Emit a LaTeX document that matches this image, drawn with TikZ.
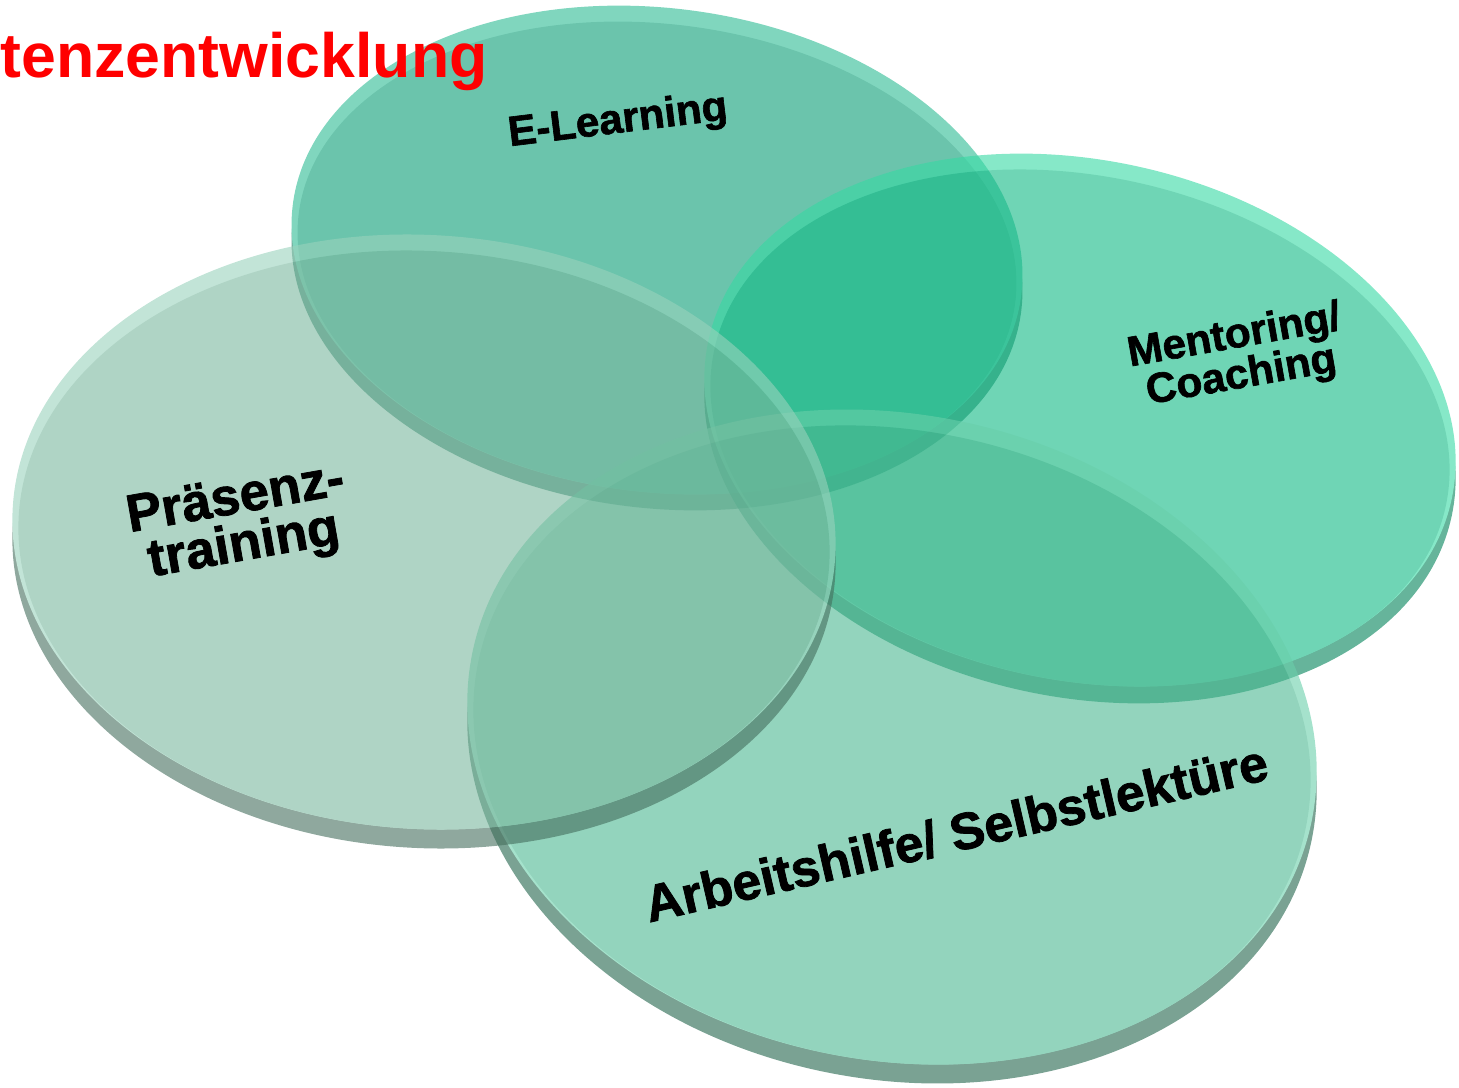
\documentclass[tikz,border=0pt]{standalone}
\usepackage{fontspec}
\setmainfont{Liberation Sans}
\newfontfamily\lblfont[BoldFeatures={FakeBold=1.5}]{Liberation Sans}
\definecolor{elSide}{RGB}{20,110,85}
\definecolor{elRim}{RGB}{43,187,147}
\definecolor{elFace}{RGB}{8,157,117}
\definecolor{mcSide}{RGB}{0,130,88}
\definecolor{mcRim}{RGB}{53,217,163}
\definecolor{mcFace}{RGB}{15,185,132}
\definecolor{asSide}{RGB}{33,100,75}
\definecolor{asRim}{RGB}{105,207,170}
\definecolor{asFace}{RGB}{75,183,145}
\definecolor{ptSide}{RGB}{68,110,93}
\definecolor{ptRim}{RGB}{153,210,188}
\definecolor{ptFace}{RGB}{122,183,158}
\begin{document}
\begin{tikzpicture}[x=0.01cm,y=-0.01cm,
  disc/.style={transparency group, opacity=0.6},
  lbl/.style 2 args={font=\lblfont\bfseries\fontsize{#1}{#2}\selectfont, align=center, inner sep=0pt}]
\useasboundingbox (0,0) rectangle (1459,1088);

\begin{scope}[disc]
\fill[elSide] (657,266) circle [x radius=367, y radius=242, rotate=-7];
\fill[elRim] (657,250) circle [x radius=367, y radius=242, rotate=-7];
\fill[elFace] (657,258) circle [x radius=361, y radius=234, rotate=-7];
\end{scope}

\begin{scope}[disc]
\fill[mcSide] (1080,437) circle [x radius=380, y radius=260, rotate=-12];
\fill[mcRim] (1080,420) circle [x radius=380, y radius=260, rotate=-12];
\fill[mcFace] (1080,428) circle [x radius=374, y radius=252, rotate=-12];
\end{scope}

\begin{scope}[disc]
\fill[asSide] (892,756) circle [x radius=428, y radius=323, rotate=-11];
\fill[asRim] (892,737) circle [x radius=428, y radius=323, rotate=-11];
\fill[asFace] (892,745) circle [x radius=422, y radius=315, rotate=-11];
\end{scope}

\begin{scope}[disc]
\fill[ptSide] (424,551) circle [x radius=412, y radius=297, rotate=-3.5];
\fill[ptRim] (424,532) circle [x radius=412, y radius=297, rotate=-3.5];
\fill[ptFace] (424,540) circle [x radius=406, y radius=289, rotate=-3.5];
\end{scope}

\node[anchor=base west, inner sep=0pt, text=red, font=\bfseries\fontsize{17.8}{20}\selectfont] (title) at (0,78) {tenzentwicklung};

\node[lbl={12}{11}, rotate=7] (elearn) at (618,122) {E-Learning};
\node[lbl={12}{11.5}, rotate=10] (mentor) at (1238,357) {Mentoring/\\Coaching};
\node[lbl={15}{13.5}, rotate=10] (praesenz) at (240,524) {Präsenz-\\training};
\node[lbl={14.7}{14}, rotate=13] (arbeit) at (956,833) {Arbeitshilfe/ Selbstlektüre};
\end{tikzpicture}
\end{document}
